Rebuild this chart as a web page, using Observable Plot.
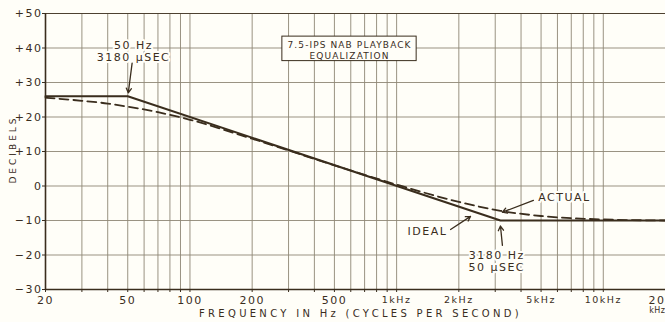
<!DOCTYPE html>
<html>
<head>
<meta charset="utf-8">
<script src="https://cdn.jsdelivr.net/npm/d3@7"></script>
<script src="https://cdn.jsdelivr.net/npm/@observablehq/plot@0.6"></script>
<style>
  html, body { margin: 0; padding: 0; background: #fffef8; }
  svg text { letter-spacing: 1.5px; }
</style>
</head>
<body>
<div id="chart"></div>
<script>
// ---- data ----
const idealFreq = [20, 50, 3180, 20000];
const idealDb   = [26, 26, -10, -10];

const actualFreq = [20, 30, 40, 50, 70, 100, 200, 500, 1000, 2000, 3180, 5000, 10000, 20000];
const actualDb   = [25.6, 24.7, 23.9, 23.0, 21.4, 19.2, 13.7, 6.0, 0.4, -4.6, -7.2, -8.7, -9.7, -10];

const gridFreqs = [20, 30, 40, 50, 60, 70, 80, 90, 100, 200, 300, 400, 500, 600, 700, 800, 900,
                   1000, 2000, 3000, 4000, 5000, 6000, 7000, 8000, 9000, 10000, 20000];
const dbTicks = [-30, -20, -10, 0, 10, 20, 30, 40, 50];
const hzTicks = [20, 50, 100, 200, 500];
const hzLabels = ["20", "50", "100", "200", "500"];
const khzTicks = [1000, 2000, 5000, 10000];
const khzLabels = ["1kHz", "2kHz", "5kHz", "10kHz"];
const lastTick = [20000];
const lastNum = ["20"];
const lastUnit = ["kHz"];

const titleLines = ["7.5-IPS NAB PLAYBACK\nEQUALIZATION"];
const titleBox = {f1: 280, f2: 1250, db1: 36.2, db2: 43.3, f: 592, db: 39.4};

const noteText = ["50 Hz\n3180 µSEC", "ACTUAL", "IDEAL", "3180 Hz\n50 µSEC"];
const noteFreq = [53.3, 6490, 1410, 3050];
const noteDb   = [39.1, -3.3, -13.2, -21.7];

const arrowF1  = [52.5, 4590, 1824, 3250];
const arrowDb1 = [35.6, -4.15, -12.6, -17.2];
const arrowF2  = [50.3, 3250, 2278, 3180];
const arrowDb2 = [27.0, -7.6, -8.8, -11.6];

const ink = "#3a2d1d";
const paper = "#fffef8";
const gridInk = "#8f8775";

const ideal = idealFreq.map((f, i) => ({f, db: idealDb[i]}));
const actual = actualFreq.map((f, i) => ({f, db: actualDb[i]}));
const notes = noteText.map((t, i) => ({t, f: noteFreq[i], db: noteDb[i]}));
const arrows = arrowF1.map((f1, i) => ({f1, db1: arrowDb1[i], f2: arrowF2[i], db2: arrowDb2[i]}));
const hzRows = hzTicks.map((f, i) => ({f, label: hzLabels[i]}));
const khzRows = khzTicks.map((f, i) => ({f, label: khzLabels[i]}));

const fmtDb = d => d > 0 ? "+" + d : d < 0 ? "\u2212" + Math.abs(d) : "0";

const chart = Plot.plot({
  width: 665,
  height: 322,
  marginLeft: 45,
  marginRight: 0,
  marginTop: 13,
  marginBottom: 33,
  x: {type: "log", domain: [20, 20000]},
  y: {domain: [-30, 50]},
  style: {background: paper, color: ink, fontFamily: "DejaVu Sans", fontSize: "11px"},
  marks: [
    Plot.gridX(gridFreqs, {stroke: gridInk, strokeOpacity: 0.9, strokeWidth: 1}),
    Plot.gridY(dbTicks, {stroke: gridInk, strokeOpacity: 0.9, strokeWidth: 1}),
    Plot.ruleX([20], {stroke: ink, strokeWidth: 1.6}),
    Plot.ruleY([-30], {stroke: ink, strokeWidth: 1.6}),
    Plot.ruleY([50], {stroke: ink, strokeWidth: 1.2, strokeOpacity: 0.8}),
    Plot.rect([titleBox], {x1: "f1", x2: "f2", y1: "db1", y2: "db2", fill: paper, stroke: ink, strokeWidth: 1}),
    Plot.text(titleLines, {x: () => titleBox.f, y: () => titleBox.db, text: d => d, fontSize: 9, lineHeight: 1.15, fill: ink}),
    Plot.line(actual, {x: "f", y: "db", stroke: ink, strokeWidth: 1.8, strokeDasharray: "9,5", curve: "monotone-x"}),
    Plot.line(ideal, {x: "f", y: "db", stroke: ink, strokeWidth: 2}),
    Plot.text(notes, {x: "f", y: "db", text: "t", fontSize: 11, lineHeight: 1.1, fill: ink, stroke: paper, strokeWidth: 4}),
    Plot.arrow(arrows, {x1: "f1", y1: "db1", x2: "f2", y2: "db2", stroke: ink, strokeWidth: 1.3, headLength: 6}),
    Plot.axisY(dbTicks, {tickFormat: fmtDb, tickSize: 3, tickPadding: 0, fontSize: 11, stroke: ink}),
    Plot.axisX(gridFreqs, {tickFormat: () => "", tickSize: 3, stroke: ink}),
    Plot.text(hzRows, {x: "f", frameAnchor: "bottom", dy: 7, lineAnchor: "top", text: "label", fontSize: 11, fill: ink}),
    Plot.text(khzRows, {x: "f", frameAnchor: "bottom", dy: 7, lineAnchor: "top", text: "label", fontSize: 9.5, fill: ink}),
    Plot.text(lastTick, {x: d => d, frameAnchor: "bottom", dy: 7, text: (d, i) => lastNum[i], textAnchor: "end", lineAnchor: "top", fontSize: 11, fill: ink}),
    Plot.text(lastTick, {x: d => d, frameAnchor: "bottom", dy: 18, text: (d, i) => lastUnit[i], textAnchor: "end", lineAnchor: "top", fontSize: 8, fill: ink}),
    Plot.text(["FREQUENCY IN Hz (CYCLES PER SECOND)"], {frameAnchor: "bottom", dy: 27, dx: 5, text: d => d, textAnchor: "middle", fontSize: 10, fill: ink}),
    Plot.text(["DECIBELS"], {frameAnchor: "left", dx: -32, dy: -2, rotate: -90, text: d => d, textAnchor: "middle", fontSize: 9, fill: ink})
  ]
});

d3.select(chart).selectAll("text").each(function () {
  const t = this.textContent;
  if (t === "FREQUENCY IN Hz (CYCLES PER SECOND)") this.style.letterSpacing = "3.3px";
  if (t === "DECIBELS") this.style.letterSpacing = "3px";
  if (t.startsWith("7.5-IPS")) this.style.letterSpacing = "1.1px";
  if (t === "kHz") this.style.letterSpacing = "0.5px";
});

document.getElementById("chart").appendChild(chart);
</script>
</body>
</html>
